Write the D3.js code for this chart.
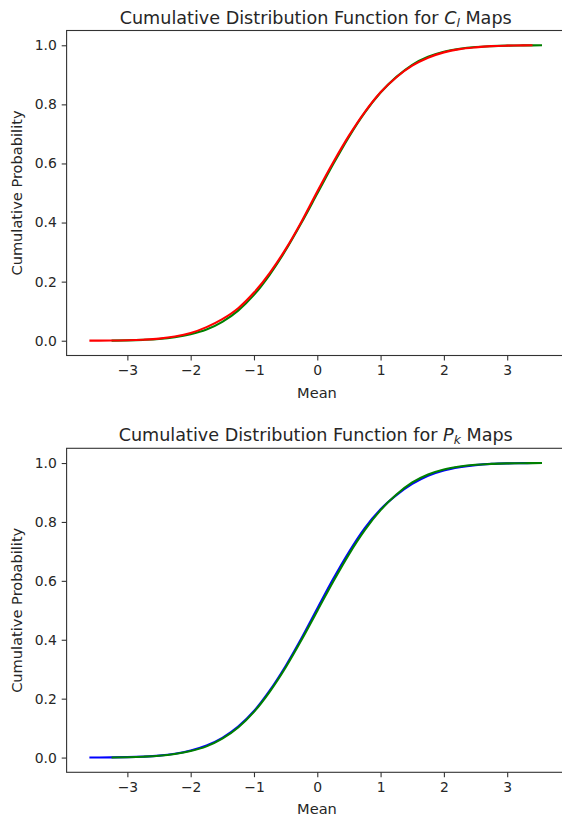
<!DOCTYPE html>
<html>
<head>
<meta charset="utf-8">
<script src="https://cdn.jsdelivr.net/npm/d3@7"></script>
<style>
  body { margin: 0; background: #fff; }
  svg text { font-family: "DejaVu Sans", sans-serif; fill: #262626; }
</style>
</head>
<body>
<div id="chart"></div>
<script>
// sample points along the mean axis
var meanGrid = [-3.6, -3.25, -3.0, -2.75, -2.5, -2.25, -2.0, -1.75, -1.5, -1.25, -1.0, -0.75, -0.5, -0.25, 0,
	0.25, 0.5, 0.75, 1.0, 1.25, 1.5, 1.75, 2.0, 2.25, 2.5, 2.75, 3.0, 3.25, 3.4, 3.55];

// reference cdf (green, drawn in both panels)
var greenCdf = [null, 0.0005, 0.0013, 0.003, 0.006, 0.012, 0.022, 0.038, 0.064, 0.102, 0.155, 0.224, 0.306, 0.399, 0.498,
	0.597, 0.690, 0.772, 0.840, 0.893, 0.934, 0.961, 0.978, 0.988, 0.994, 0.997, 0.9988, 0.9995, 0.9998, 1.0];
// C_l maps (red)
var redCdf = [0.0002, 0.0007, 0.0015, 0.0035, 0.007, 0.014, 0.026, 0.046, 0.073, 0.110, 0.163, 0.230, 0.310, 0.403, 0.505,
	0.603, 0.694, 0.774, 0.841, 0.892, 0.931, 0.958, 0.976, 0.987, 0.993, 0.997, 0.9987, 0.9995, 1.0, null];
// P_k maps (blue)
var blueCdf = [0.0002, 0.0006, 0.0014, 0.0032, 0.0065, 0.013, 0.024, 0.041, 0.067, 0.105, 0.158, 0.228, 0.311, 0.405, 0.506,
	0.606, 0.698, 0.779, 0.843, 0.891, 0.929, 0.957, 0.975, 0.986, 0.993, 0.997, 0.9988, 0.9996, 1.0, null];

var xTicks = [-3, -2, -1, 0, 1, 2, 3];
var yTicks = [0.0, 0.2, 0.4, 0.6, 0.8, 1.0];

var panels = [
	{ sym: "C", sub: "l", top: 30.5, bottom: 355.5, series: [ [greenCdf, "green"], [redCdf, "red"] ] },
	{ sym: "P", sub: "k", top: 448.3, bottom: 772.3, series: [ [blueCdf, "blue"], [greenCdf, "green"] ] }
];

var svg = d3.select("#chart").append("svg")
	.attr("width", 562)
	.attr("height", 816);

var x = d3.scaleLinear().domain([-3.96, 3.91]).range([66.6, 564.8]);

panels.forEach(function(p) {
	var y = d3.scaleLinear().domain([-0.05, 1.05]).range([p.bottom, p.top]);
	var g = svg.append("g");

	var line = d3.line()
		.defined(function(d) { return d[1] !== null; })
		.x(function(d) { return x(d[0]); })
		.y(function(d) { return y(d[1]); })
		.curve(d3.curveMonotoneX);

	p.series.forEach(function(s) {
		var pts = meanGrid.map(function(m, i) { return [m, s[0][i]]; });
		g.append("path")
			.datum(pts)
			.attr("d", line)
			.attr("fill", "none")
			.attr("stroke", s[1])
			.attr("stroke-width", 2.1);
	});

	// frame
	g.append("rect")
		.attr("x", x.range()[0])
		.attr("y", p.top)
		.attr("width", x.range()[1] - x.range()[0])
		.attr("height", p.bottom - p.top)
		.attr("fill", "none")
		.attr("stroke", "#333")
		.attr("stroke-width", 1.1);

	var xAxis = g.append("g")
		.attr("transform", "translate(0," + p.bottom + ")")
		.call(d3.axisBottom(x).tickValues(xTicks).tickSize(4.9).tickPadding(4.9)
			.tickFormat(function(d) { return d < 0 ? "\u2212" + Math.abs(d) : d; }));
	var yAxis = g.append("g")
		.attr("transform", "translate(" + x.range()[0] + ",0)")
		.call(d3.axisLeft(y).tickValues(yTicks).tickSize(4.9).tickPadding(4.9).tickFormat(d3.format(".1f")));

	[xAxis, yAxis].forEach(function(a) {
		a.select(".domain").remove();
		a.selectAll(".tick line").attr("stroke", "#333").attr("stroke-width", 1.1);
		a.selectAll(".tick text").attr("font-size", 13.9).attr("fill", "#262626");
	});

	var title = g.append("text")
		.attr("x", (x.range()[0] + x.range()[1]) / 2)
		.attr("y", p.top - 7)
		.attr("text-anchor", "middle")
		.attr("font-size", 17.6);
	title.append("tspan").text("Cumulative Distribution Function for ");
	title.append("tspan").attr("font-style", "italic").text(p.sym);
	title.append("tspan").attr("font-style", "italic").attr("font-size", 12.3).attr("dy", 3).text(p.sub);
	title.append("tspan").attr("dy", -3).text(" Maps");

	g.append("text")
		.attr("x", 317)
		.attr("y", p.bottom + 42)
		.attr("text-anchor", "middle")
		.attr("font-size", 14.6)
		.text("Mean");

	g.append("text")
		.attr("transform", "translate(22," + ((p.top + p.bottom) / 2) + ") rotate(-90)")
		.attr("text-anchor", "middle")
		.attr("font-size", 14.6)
		.text("Cumulative Probability");
});
</script>
</body>
</html>
